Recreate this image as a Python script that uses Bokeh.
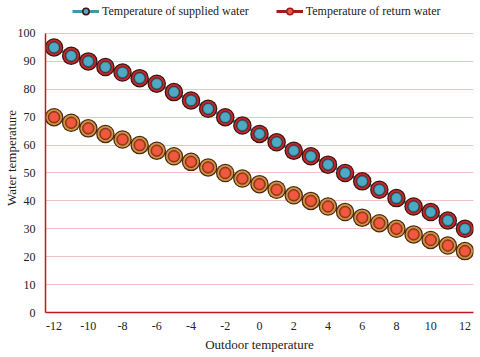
from bokeh.plotting import figure
from bokeh.models import ColumnDataSource, Legend, LegendItem, FixedTicker, Range1d
from bokeh.embed import file_html
from bokeh.resources import INLINE

outdoor = list(range(-12, 13))
supplied = [95, 92, 90, 88, 86, 84, 82, 79, 76, 73, 70, 67, 64, 61, 58, 56, 53, 50, 47, 44, 41, 38, 36, 33, 30]
returned = [70, 68, 66, 64, 62, 60, 58, 56, 54, 52, 50, 48, 46, 44, 42, 40, 38, 36, 34, 32, 30, 28, 26, 24, 22]
x_ticks = list(range(-12, 13, 2))
y_ticks = list(range(0, 101, 10))
series_names = ["Temperature of supplied water", "Temperature of return water"]

FONT = "Liberation Serif"

# extra room above 100 holds the legend inside the frame
p = figure(frame_width=428, frame_height=309, output_backend="svg", toolbar_location=None,
           x_range=Range1d(-12.5, 12.5), y_range=Range1d(0, 110.75),
           min_border_left=30, min_border_right=1, min_border_top=3, min_border_bottom=30)
p.outline_line_color = None
p.background_fill_color = "white"
p.border_fill_color = "white"

src = ColumnDataSource(dict(x=outdoor, s=supplied, r=returned))

# lines
p.line("x", "s", source=src, line_color="#3f9aa6", line_width=3)
p.line("x", "r", source=src, line_color="#a11d1d", line_width=3)

# supplied markers
p.scatter("x", "s", source=src, size=18.5, fill_color="#3b1414", line_color=None)
p.scatter("x", "s", source=src, size=16, fill_color="#c2292b", line_color=None)
p.scatter("x", "s", source=src, size=11.5, fill_color="#2f7f95", line_color="#4a1a1a", line_width=0.8)
p.scatter("x", "s", source=src, size=9, fill_color="#4eaac4", line_color=None)

# return markers
p.scatter("x", "r", source=src, size=18.5, fill_color="#4a2a10", line_color=None)
p.scatter("x", "r", source=src, size=16, fill_color="#d29443", line_color=None)
p.scatter("x", "r", source=src, size=11.5, fill_color="#c83a22", line_color="#5a2a10", line_width=0.8)
p.scatter("x", "r", source=src, size=9, fill_color="#ee5a40", line_color=None)

# legend-only renderers (not drawn in the plot: NaN position)
nan_src = ColumnDataSource(dict(x=[float("nan")], y=[float("nan")]))
l1 = p.line("x", "y", source=nan_src, line_color="#3f9aa6", line_width=3)
m1 = p.scatter("x", "y", source=nan_src, fill_color="#4eaac4", line_color="#3b1414", line_width=1.5)
l2 = p.line("x", "y", source=nan_src, line_color="#a11d1d", line_width=3)
m2 = p.scatter("x", "y", source=nan_src, fill_color="#ee5a40", line_color="#a11d1d", line_width=1.5)

legend = Legend(items=[LegendItem(label=series_names[0], renderers=[l1, m1]),
                       LegendItem(label=series_names[1], renderers=[l2, m2])],
                orientation="horizontal", location=(27, 293),
                label_text_font=FONT, label_text_font_size="12px", label_text_color="#222222",
                glyph_width=27, glyph_height=16, spacing=27, padding=0, margin=0,
                label_standoff=3, border_line_color=None, background_fill_alpha=0)
p.add_layout(legend, "center")

# axes
for ax in (p.xaxis, p.yaxis):
    ax.axis_line_color = "#c0181c"
    ax.axis_line_width = 1.5
    ax.major_tick_line_color = None
    ax.minor_tick_line_color = None
    ax.major_tick_out = 0
    ax.major_tick_in = 0
    ax.minor_tick_out = 0
    ax.minor_tick_in = 0
    ax.major_label_text_font = FONT
    ax.major_label_text_font_size = "12px"
    ax.major_label_text_color = "#222222"
    ax.axis_label_text_font = FONT
    ax.axis_label_text_font_size = "13px"
    ax.axis_label_text_font_style = "normal"
    ax.axis_label_text_color = "#222222"

p.yaxis.bounds = (y_ticks[0], y_ticks[-1])
p.xaxis.ticker = FixedTicker(ticks=x_ticks)
p.yaxis.ticker = FixedTicker(ticks=y_ticks)
p.xaxis.major_label_overrides = {t: str(t) for t in x_ticks}
p.xaxis.axis_label = "Outdoor temperature"
p.yaxis.axis_label = "Water temperature"
p.xaxis.major_label_standoff = 9
p.yaxis.major_label_standoff = 10
p.xaxis.axis_label_standoff = 4
p.yaxis.axis_label_standoff = -4

p.xgrid.grid_line_color = None
p.ygrid.grid_line_color = "#f2c2c2"
p.ygrid.grid_line_width = 1.2

open("out.html", "w").write(file_html(p, INLINE))
